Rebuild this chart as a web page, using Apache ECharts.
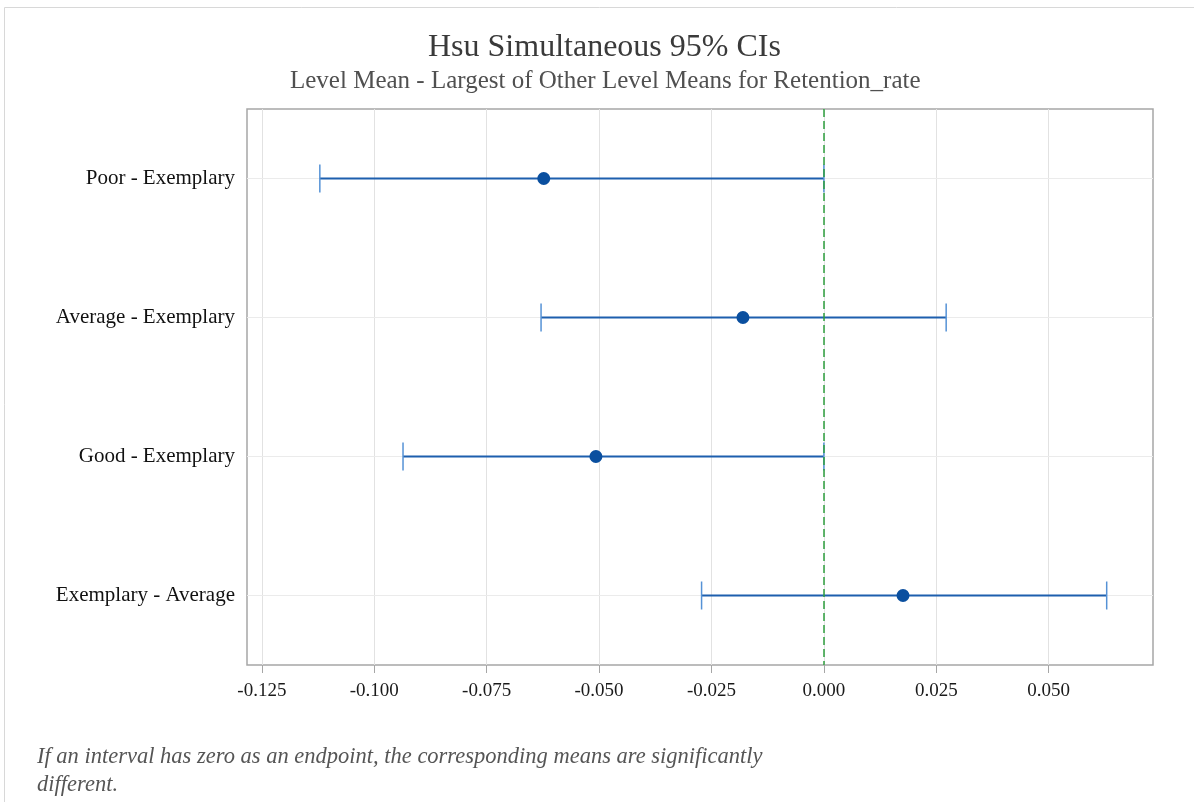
<!DOCTYPE html>
<html>
<head>
<meta charset="utf-8">
<script src="https://cdn.jsdelivr.net/npm/echarts@6/dist/echarts.min.js"></script>
<style>
  html, body { margin: 0; padding: 0; background: #ffffff; }
  #chart { width: 1194px; height: 802px; }
</style>
</head>
<body>
<div id="chart"></div>
<script>
// Hsu simultaneous 95% confidence intervals for Retention_rate
const comparisons = ['Poor - Exemplary', 'Average - Exemplary', 'Good - Exemplary', 'Exemplary - Average'];
const lowerBounds = [-0.1121, -0.0629, -0.0936, -0.0272];
const centerValues = [-0.0623, -0.0180, -0.0507, 0.0176];
const upperBounds = [0.0, 0.0272, 0.0, 0.0629];
const xTickValues = [-0.125, -0.100, -0.075, -0.050, -0.025, 0.000, 0.025, 0.050];

const serif = '"Liberation Serif", "DejaVu Serif", serif';

const intervalData = comparisons.map((c, i) => [i, lowerBounds[i], centerValues[i], upperBounds[i]]);
const pointData = comparisons.map((c, i) => [centerValues[i], c]);

const chart = echarts.init(document.getElementById('chart'), null, { renderer: 'canvas' });

chart.setOption({
  animation: false,
  backgroundColor: '#ffffff',
  title: [
    {
      text: 'Hsu Simultaneous 95% CIs',
      left: 423, top: 27,
      textStyle: { fontFamily: serif, fontSize: 32, fontWeight: 'normal', color: '#3a3a3a' }
    },
    {
      text: 'Level Mean - Largest of Other Level Means for Retention_rate',
      left: 285, top: 64,
      textStyle: { fontFamily: serif, fontSize: 25, fontWeight: 'normal', color: '#505050' }
    }
  ],
  graphic: [
    {
      type: 'polyline',
      shape: { points: [[4.5, 802], [4.5, 7.5], [1194, 7.5]] },
      style: { stroke: '#d8d8d8', lineWidth: 1, fill: null },
      silent: true
    },
    {
      type: 'text',
      left: 37, top: 743,
      style: {
        text: 'If an interval has zero as an endpoint, the corresponding means are significantly\ndifferent.',
        font: 'italic 22.5px ' + serif,
        fill: '#555555',
        lineHeight: 28
      }
    }
  ],
  grid: {
    left: 247, right: 41, top: 109, bottom: 137,
    show: true, borderColor: '#a6a6a6', borderWidth: 1.5, backgroundColor: 'transparent'
  },
  xAxis: {
    type: 'value',
    min: -0.1283, max: 0.0732,
    axisLine: { show: false },
    axisTick: { show: true, customValues: xTickValues, length: 8, lineStyle: { color: '#a6a6a6' } },
    axisLabel: {
      customValues: xTickValues,
      formatter: v => v.toFixed(3),
      fontFamily: serif, fontSize: 19, color: '#1a1a1a', margin: 17
    },
    splitLine: { show: true, lineStyle: { color: '#e2e2e2', width: 1 } }
  },
  yAxis: {
    type: 'category',
    data: comparisons,
    inverse: true,
    axisLine: { show: false },
    axisTick: { show: true, alignWithLabel: true, length: 7, lineStyle: { color: '#a6a6a6' } },
    axisLabel: { fontFamily: serif, fontSize: 21, color: '#111111', margin: 12 },
    splitLine: { show: false }
  },
  series: [
    {
      // faint horizontal guide lines through each comparison
      type: 'custom',
      silent: true,
      z: 1,
      data: intervalData,
      renderItem: (params, api) => {
        const yc = api.coord([0, api.value(0)])[1];
        const cs = params.coordSys;
        return {
          type: 'line',
          shape: { x1: cs.x, y1: yc, x2: cs.x + cs.width, y2: yc },
          style: { stroke: '#ebebeb', lineWidth: 1 }
        };
      }
    },
    {
      // interval whiskers with end caps
      type: 'custom',
      z: 3,
      data: intervalData,
      encode: { x: [1, 2, 3], y: 0 },
      renderItem: (params, api) => {
        const cat = api.value(0);
        const lo = api.coord([api.value(1), cat]);
        const hi = api.coord([api.value(3), cat]);
        const capH = 14;
        return {
          type: 'group',
          children: [
            {
              type: 'line',
              shape: { x1: lo[0], y1: lo[1], x2: hi[0], y2: hi[1] },
              style: { stroke: '#1d5fae', lineWidth: 2 }
            },
            {
              type: 'line',
              shape: { x1: lo[0], y1: lo[1] - capH, x2: lo[0], y2: lo[1] + capH },
              style: { stroke: '#5592d6', lineWidth: 1.5 }
            },
            {
              type: 'line',
              shape: { x1: hi[0], y1: hi[1] - capH, x2: hi[0], y2: hi[1] + capH },
              style: { stroke: '#5592d6', lineWidth: 1.5 }
            }
          ]
        };
      },
      markLine: {
        silent: true,
        symbol: ['none', 'none'],
        label: { show: false },
        lineStyle: { color: '#2e9e3e', type: [8, 4], width: 1.5 },
        data: [{ xAxis: 0 }],
        z: 5
      }
    },
    {
      type: 'scatter',
      z: 4,
      data: pointData,
      symbol: 'circle',
      symbolSize: 13,
      itemStyle: { color: '#0a4f9f', opacity: 1 }
    }
  ]
});
</script>
</body>
</html>
